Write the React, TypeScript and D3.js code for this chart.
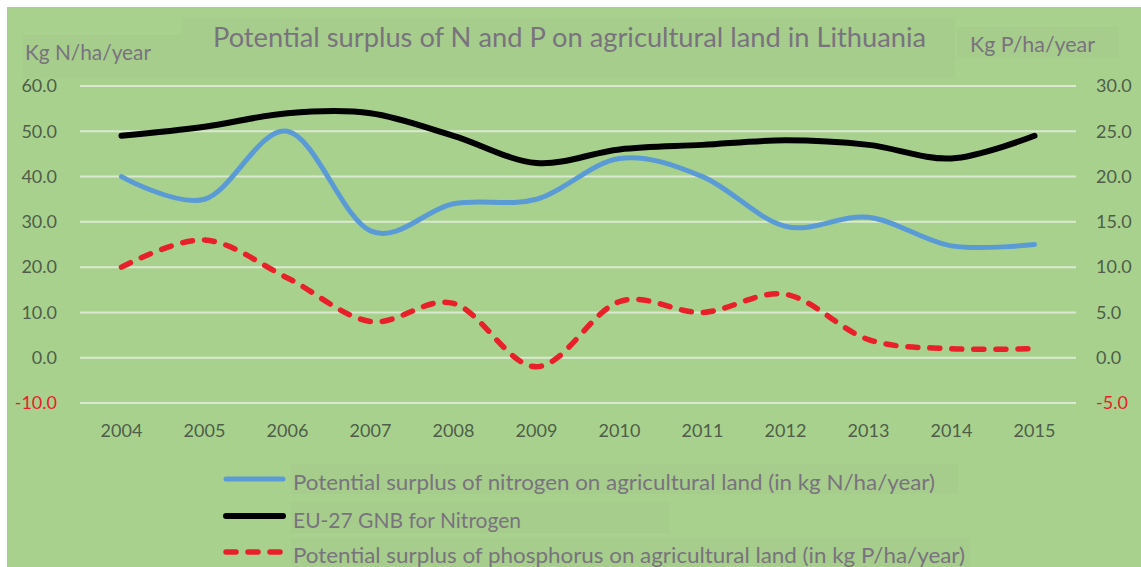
import React from 'react';
import * as d3 from 'd3';

const years = ['2004', '2005', '2006', '2007', '2008', '2009', '2010', '2011', '2012', '2013', '2014', '2015'];
// kg N/ha/year (left axis)
const nitrogenSurplus = [40, 35, 50, 28, 34, 35, 44, 40, 29, 31, 24.7, 25];
const euNitrogen = [49, 51, 54, 54, 49, 43, 46, 47, 48, 47, 44, 49];
// kg P/ha/year (right axis)
const phosphorusSurplus = [10, 13, 8.8, 4, 6, -1, 6.2, 5, 7, 2, 1, 1];

const leftTicks = [60, 50, 40, 30, 20, 10, 0, -10];
const rightTicks = [30, 25, 20, 15, 10, 5, 0, -5];

const titleText = 'Potential surplus of N and P on agricultural land in Lithuania';
const leftAxisTitle = 'Kg N/ha/year';
const rightAxisTitle = 'Kg P/ha/year';
const legendLabels = [
  'Potential surplus of nitrogen on agricultural land (in kg N/ha/year)',
  'EU-27 GNB for Nitrogen',
  'Potential surplus of phosphorus on agricultural land (in kg P/ha/year)',
];

const W = 1141;
const H = 567;
const font = 'Lato, "Open Sans", sans-serif';
const greyText = '#79737f';
const tickColor = '#4e5e49';
const red = '#e8202a';
const blue = '#5b9bd5';
const boxFill = '#a6cd8b';

const App: React.FC = () => {
  const x = d3.scalePoint<string>().domain(years).range([80, 1076]).padding(0.5);
  const yLeft = d3.scaleLinear().domain([-10, 60]).range([403, 86]);
  const yRight = d3.scaleLinear().domain([-5, 30]).range([403, 86]);

  const smooth = d3.curveCardinal.tension(0);
  const lineLeft = d3
    .line<number>()
    .x((_, i) => x(years[i]) as number)
    .y((d) => yLeft(d))
    .curve(smooth);
  const lineRight = d3
    .line<number>()
    .x((_, i) => x(years[i]) as number)
    .y((d) => yRight(d))
    .curve(smooth);

  const legendRows = [
    { label: legendLabels[0], color: blue, dash: undefined, width: 5, y: 479, base: 490, box: [291, 464, 667, 30], len: 642 },
    { label: legendLabels[1], color: '#000', dash: undefined, width: 6, y: 516, base: 528, box: [291, 502, 378, 31], len: 0 },
    { label: legendLabels[2], color: red, dash: '10 12', width: 5.5, y: 552, base: 563, box: [291, 538, 679, 29], len: 672 },
  ];

  return (
    <svg width={W} height={H} style={{ display: 'block', position: 'absolute', left: 0, top: 0 }}>
      <rect x={0} y={0} width={W} height={H} fill="#ffffff" />
      <rect x={7} y={7} width={W - 7} height={H - 7} fill="#a9d18e" />

      {/* text boxes */}
      <rect x={182} y={18} width={773} height={60} fill={boxFill} />
      <rect x={23} y={35} width={159} height={43} fill={boxFill} />
      <rect x={957} y={27} width={162} height={31} fill={boxFill} />

      {/* gridlines */}
      {leftTicks.map((t) => (
        <line key={t} x1={80} x2={1076} y1={yLeft(t)} y2={yLeft(t)} stroke="#dbe8d2" strokeWidth={2} />
      ))}

      {/* left axis labels */}
      {leftTicks.map((t) => (
        <text
          key={t}
          x={57}
          y={yLeft(t)}
          dy="0.35em"
          textAnchor="end"
          fontFamily={font}
          fontSize={18}
          fill={t < 0 ? red : tickColor}
        >
          {t.toFixed(1)}
        </text>
      ))}

      {/* right axis labels */}
      {rightTicks.map((t) => (
        <text
          key={t}
          x={1096}
          y={yRight(t)}
          dy="0.35em"
          textAnchor="start"
          fontFamily={font}
          fontSize={18}
          fill={t < 0 ? red : tickColor}
        >
          {t.toFixed(1)}
        </text>
      ))}

      {/* category labels */}
      {years.map((yr) => (
        <text key={yr} x={x(yr)} y={437} textAnchor="middle" fontFamily={font} fontSize={18} fill={tickColor}>
          {yr}
        </text>
      ))}

      {/* series */}
      <path d={lineLeft(euNitrogen) ?? ''} fill="none" stroke="#000" strokeWidth={6} strokeLinecap="round" />
      <path d={lineLeft(nitrogenSurplus) ?? ''} fill="none" stroke={blue} strokeWidth={5} strokeLinecap="round" />
      <path
        d={lineRight(phosphorusSurplus) ?? ''}
        fill="none"
        stroke={red}
        strokeWidth={5.5}
        strokeDasharray="10 12"
        strokeLinecap="round"
      />

      {/* titles */}
      <text x={213} y={47} fontFamily={font} fontSize={27} fill={greyText} textLength={713} lengthAdjust="spacingAndGlyphs">
        {titleText}
      </text>
      <text x={25} y={60} fontFamily={font} fontSize={21} fill={greyText} textLength={126} lengthAdjust="spacingAndGlyphs">
        {leftAxisTitle}
      </text>
      <text x={970} y={52} fontFamily={font} fontSize={21} fill={greyText} textLength={125} lengthAdjust="spacingAndGlyphs">
        {rightAxisTitle}
      </text>

      {/* legend */}
      {legendRows.map((r) => (
        <g key={r.label}>
          <rect x={r.box[0]} y={r.box[1]} width={r.box[2]} height={r.box[3]} fill={boxFill} />
          <line
            x1={226}
            x2={283}
            y1={r.y}
            y2={r.y}
            stroke={r.color}
            strokeWidth={r.width}
            strokeLinecap="round"
            strokeDasharray={r.dash}
          />
          <text
            x={293}
            y={r.base}
            fontFamily={font}
            fontSize={21}
            fill={greyText}
            {...(r.len ? { textLength: r.len, lengthAdjust: 'spacingAndGlyphs' } : {})}
          >
            {r.label}
          </text>
        </g>
      ))}
    </svg>
  );
};

export default App;
